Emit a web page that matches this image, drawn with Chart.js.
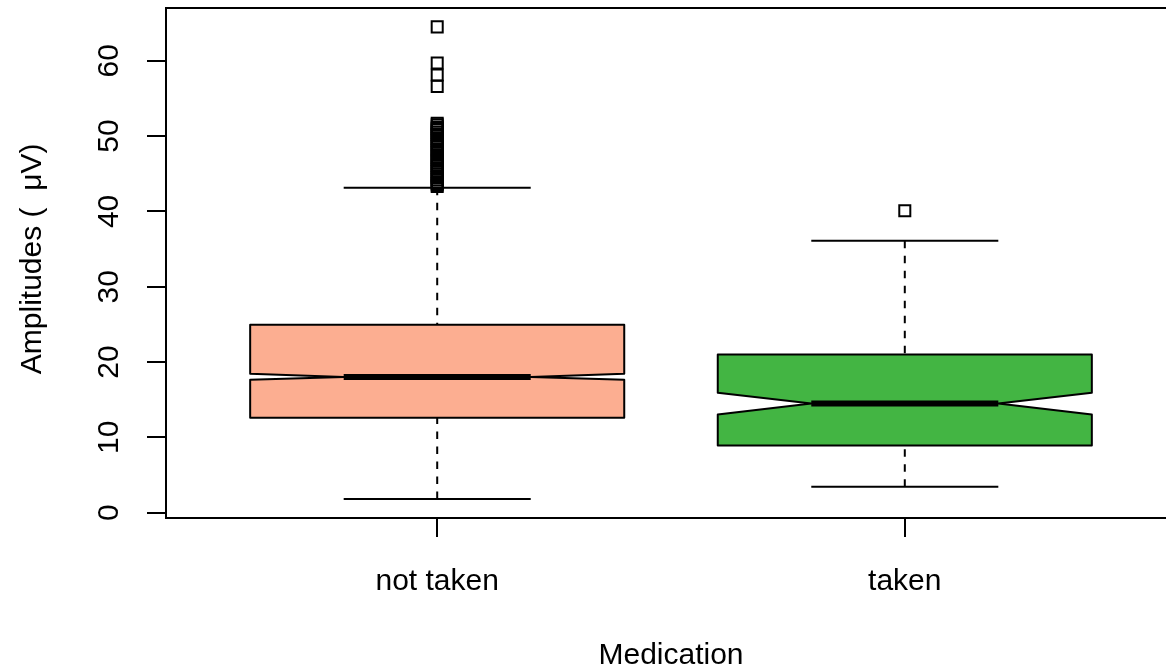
<!DOCTYPE html>
<html>
<head>
<meta charset="utf-8">
<title>Amplitudes by medication</title>
<script src="https://cdn.jsdelivr.net/npm/chart.js@4.4.1/dist/chart.umd.min.js"></script>
<style>
  html, body { margin: 0; padding: 0; background: #fff; overflow: hidden; }
  /* the plot region runs a little past the right edge, as in the original */
  #wrap { width: 1166px; height: 671px; overflow: hidden; }
</style>
</head>
<body>
<div id="wrap"><canvas id="chart" width="1176" height="671"></canvas></div>
<script>
// Box statistics, one entry per group
const categories = ['not taken', 'taken'];
const whiskerLow = [1.8, 3.45];
const q1 = [12.59, 8.92];
const medians = [18.03, 14.49];
const q3 = [24.96, 20.99];
const whiskerHigh = [43.13, 36.1];
const notchLow = [17.65, 13.03];
const notchHigh = [18.43, 15.91];
const outliersNotTaken = [64.5, 59.7, 58.1, 56.6,
  51.7, 51.5, 51.2, 51.0, 50.8, 50.5, 50.2, 50.0, 49.7, 49.4, 49.2, 48.9, 48.6, 48.3, 48.1, 47.8,
  47.5, 47.2, 46.9, 46.7, 46.4, 46.1, 45.8, 45.6, 45.3, 45.0, 44.7, 44.5, 44.2, 43.9, 43.7, 43.5, 43.3];
const outliersTaken = [40.08];
const yTicks = [0, 10, 20, 30, 40, 50, 60];

const boxFill = ['#FCAE91', '#43B543'];
const FONT = "'Liberation Sans', Arial, Helvetica, sans-serif";

// R style axis limits: 4% beyond the data range
const outliers = [outliersNotTaken, outliersTaken];
const allValues = whiskerLow.concat(whiskerHigh, outliersNotTaken, outliersTaken);
const dataMin = Math.min(...allValues);
const dataMax = Math.max(...allValues);
const yPad = (dataMax - dataMin) * 0.04;
const xPad = categories.length * 0.04;

const outlierPoints = outliers.flatMap((vals, i) => vals.map(v => ({ x: i + 1, y: v })));

const boxplotPlugin = {
  id: 'boxplot',
  beforeDatasetsDraw(chart) {
    const { ctx, scales: { x, y } } = chart;
    ctx.save();
    ctx.strokeStyle = '#000';
    ctx.lineJoin = 'round';
    categories.forEach((c, i) => {
      const cx = x.getPixelForValue(i + 1);
      const boxHalf = x.getPixelForValue(i + 1.4) - cx;
      const notchHalf = boxHalf / 2;
      const py = (v) => y.getPixelForValue(v);

      // whiskers
      ctx.lineWidth = 2;
      ctx.lineCap = 'butt';
      ctx.setLineDash([7.5, 7.5]);
      ctx.beginPath();
      ctx.moveTo(cx, py(whiskerLow[i]));
      ctx.lineTo(cx, py(q1[i]));
      ctx.moveTo(cx, py(whiskerHigh[i]));
      ctx.lineTo(cx, py(q3[i]));
      ctx.stroke();
      ctx.setLineDash([]);

      // staples
      ctx.beginPath();
      ctx.moveTo(cx - notchHalf, py(whiskerLow[i]));
      ctx.lineTo(cx + notchHalf, py(whiskerLow[i]));
      ctx.moveTo(cx - notchHalf, py(whiskerHigh[i]));
      ctx.lineTo(cx + notchHalf, py(whiskerHigh[i]));
      ctx.stroke();

      // notched box
      ctx.beginPath();
      ctx.moveTo(cx - boxHalf, py(q1[i]));
      ctx.lineTo(cx - boxHalf, py(notchLow[i]));
      ctx.lineTo(cx - notchHalf, py(medians[i]));
      ctx.lineTo(cx - boxHalf, py(notchHigh[i]));
      ctx.lineTo(cx - boxHalf, py(q3[i]));
      ctx.lineTo(cx + boxHalf, py(q3[i]));
      ctx.lineTo(cx + boxHalf, py(notchHigh[i]));
      ctx.lineTo(cx + notchHalf, py(medians[i]));
      ctx.lineTo(cx + boxHalf, py(notchLow[i]));
      ctx.lineTo(cx + boxHalf, py(q1[i]));
      ctx.closePath();
      ctx.fillStyle = boxFill[i];
      ctx.fill();
      ctx.stroke();

      // median
      ctx.lineWidth = 6;
      ctx.beginPath();
      ctx.moveTo(cx - notchHalf, py(medians[i]));
      ctx.lineTo(cx + notchHalf, py(medians[i]));
      ctx.stroke();
    });
    ctx.restore();
  },
  afterDraw(chart) {
    // frame round the plot region
    const { ctx, chartArea: a } = chart;
    ctx.save();
    ctx.strokeStyle = '#000';
    ctx.lineWidth = 2;
    ctx.strokeRect(a.left, a.top, a.right - a.left, a.bottom - a.top);
    ctx.restore();
  }
};

function noPadding(scale) {
  scale.paddingLeft = 0;
  scale.paddingTop = 0;
  scale.paddingBottom = 0;
  scale.paddingRight = 0;
}

new Chart(document.getElementById('chart'), {
  type: 'scatter',
  data: {
    datasets: [{
      label: 'outliers',
      data: outlierPoints,
      pointStyle: 'rect',
      pointRadius: 7.8,
      pointHoverRadius: 7.8,
      pointBorderWidth: 2,
      pointBorderColor: '#000',
      pointBackgroundColor: 'rgba(0,0,0,0)'
    }]
  },
  options: {
    responsive: false,
    maintainAspectRatio: false,
    devicePixelRatio: 1,
    animation: false,
    events: [],
    layout: { autoPadding: false, padding: { top: 8, left: 0, right: 0, bottom: 0 } },
    plugins: { legend: { display: false }, tooltip: { enabled: false } },
    scales: {
      x: {
        type: 'linear',
        min: 1 - 0.5 - xPad,
        max: categories.length + 0.5 + xPad,
        border: { display: false },
        grid: { drawOnChartArea: false, drawTicks: true, tickLength: 19, color: '#000', lineWidth: 2 },
        afterBuildTicks: (scale) => { scale.ticks = categories.map((c, i) => ({ value: i + 1 })); },
        afterFit: (scale) => { scale.height = 153; noPadding(scale); },
        ticks: {
          autoSkip: false,
          maxRotation: 0,
          minRotation: 0,
          padding: 29.5,
          color: '#000',
          font: { family: FONT, size: 30, lineHeight: 1 },
          callback: (v) => categories[v - 1]
        },
        title: {
          display: true,
          text: 'Medication',
          color: '#000',
          font: { family: FONT, size: 30, lineHeight: 1 },
          padding: { top: 0, bottom: 0 }
        }
      },
      y: {
        type: 'linear',
        min: dataMin - yPad,
        max: dataMax + yPad,
        border: { display: false },
        grid: { drawOnChartArea: false, drawTicks: true, tickLength: 19, color: '#000', lineWidth: 2 },
        afterBuildTicks: (scale) => { scale.ticks = yTicks.map(v => ({ value: v })); },
        afterFit: (scale) => { scale.width = 166; noPadding(scale); },
        ticks: {
          minRotation: 90,
          maxRotation: 90,
          crossAlign: 'center',
          padding: 21,
          color: '#000',
          font: { family: FONT, size: 30, lineHeight: 1 }
        },
        title: {
          display: true,
          text: ' Amplitudes (  \u03bcV)',
          color: '#000',
          font: { family: FONT, size: 30, lineHeight: 1 },
          padding: { top: 17.5, bottom: 0 }
        }
      }
    }
  },
  plugins: [boxplotPlugin]
});
</script>
</body>
</html>
